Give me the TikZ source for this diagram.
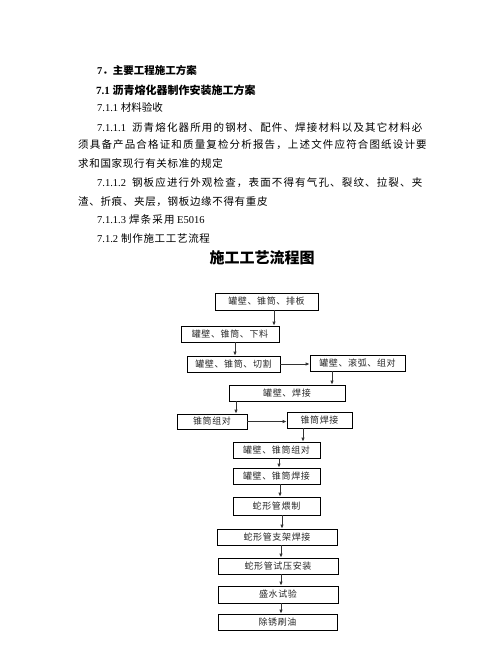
\documentclass[tikz,border=0pt]{standalone}
\usepackage{fontspec}
\setmainfont{Liberation Serif}
\newfontfamily\cjk{Noto Sans CJK SC}
\newfontfamily\cjkwide{Noto Sans CJK SC}[LetterSpace=11]
\newfontfamily\cjkmid{Noto Sans CJK SC}[LetterSpace=6.5]
\newfontfamily\cjkbox{Noto Sans CJK SC}[LetterSpace=7]
\usetikzlibrary{arrows.meta}

\begin{document}
\begin{tikzpicture}[x=1pt, y=-1pt,
  txt/.style={anchor=west, inner sep=0pt, font=\fontsize{10.5}{12}\selectfont},
  box/.style={draw, rectangle, line width=0.7pt, inner sep=0pt, text=black!85, font=\cjkbox\fontsize{9}{10}\selectfont},
  arr/.style={-{Latex[length=4pt,width=3.5pt]}, line width=0.8pt, black!80}]
\useasboundingbox (0,0) rectangle (502,649);

% text above the chart
\node[txt, font=\bfseries\fontsize{10.5}{12}\selectfont] (sec7) at (97,70) {7{\cjk．主要工程施工方案}};
\node[txt, font=\bfseries\fontsize{11}{12}\selectfont] (sec71) at (96,90) {7.1 {\cjk 沥青熔化器制作安装施工方案}};
\node[txt] (sec711) at (97,107) {7.1.1 {\cjk 材料验收}};
\node[txt] (para1a) at (97,127) {7.1.1.1\hspace{6pt}{\cjkwide 沥青熔化器所用的钢材、配件、焊接材料以及其它材料必}};
\node[txt] (para1b) at (78,145) {{\cjkwide 须具备产品合格证和质量复检分析报告，上述文件应符合图纸设计要}};
\node[txt] (para1c) at (78,163) {{\cjkmid 求和国家现行有关标准的规定}};
\node[txt] (para2a) at (97,183) {7.1.1.2\hspace{6pt}{\cjkwide 钢板应进行外观检查，表面不得有气孔、裂纹、拉裂、夹}};
\node[txt] (para2b) at (78,202) {{\cjkmid 渣、折痕、夹层，钢板边缘不得有重皮}};
\node[txt] (para3) at (97,220) {7.1.1.3\hspace{3pt}{\cjkwide 焊条采用} E5016};
\node[txt] (sec712) at (97,238) {7.1.2\hspace{3pt}{\cjkmid 制作施工工艺流程}};
\node[inner sep=0pt, font=\cjk\bfseries\fontsize{15}{16}\selectfont] (title) at (262,258) {施工工艺流程图};

% flow chart
\node[box, minimum width=103pt, minimum height=17pt] (pb) at (266.5,301.5) {罐壁、锥筒、排板};
\node[box, minimum width=98pt, minimum height=16pt] (xl) at (230,334) {罐壁、锥筒、下料};
\node[box, minimum width=93pt, minimum height=16pt] (qg) at (233.5,364) {罐壁、锥筒、切割};
\node[box, minimum width=95pt, minimum height=16pt] (gh) at (357.5,363) {罐壁、滚弧、组对};
\node[box, minimum width=116pt, minimum height=16pt] (hj) at (287,393) {罐壁、焊接};
\node[box, minimum width=70pt, minimum height=15pt] (zd) at (212,421.5) {锥筒组对};
\node[box, minimum width=65pt, minimum height=16pt] (zh) at (319.5,420) {锥筒焊接};
\node[box, minimum width=87pt, minimum height=16pt] (gzd) at (276.5,450) {罐壁、锥筒组对};
\node[box, minimum width=87pt, minimum height=16pt] (gzh) at (276.5,476) {罐壁、锥筒焊接};
\node[box, minimum width=87pt, minimum height=18pt] (sw) at (276.5,506) {蛇形管煨制};
\node[box, minimum width=120pt, minimum height=16pt] (zj) at (277,537) {蛇形管支架焊接};
\node[box, minimum width=120pt, minimum height=16pt] (sy) at (278,566) {蛇形管试压安装};
\node[box, minimum width=120pt, minimum height=17pt] (cs) at (278,594.5) {盛水试验};
\node[box, minimum width=119pt, minimum height=16pt] (cx) at (277.5,622) {除锈刷油};

\draw[arr] ([xshift=7.5pt]pb.south) -- ([xshift=7.5pt]pb.south |- xl.north);
\draw[arr] ([xshift=5pt]xl.south) -- ([xshift=5pt]xl.south |- qg.north);
\draw[arr] (qg.east) -- (qg.east -| gh.west);
\draw[arr] ([xshift=-25.5pt]gh.south) -- ([xshift=-25.5pt]gh.south |- hj.north);
\draw[arr] ([xshift=-51pt]hj.south) -- ([xshift=-51pt]hj.south |- zd.north);
\draw[arr] (zd.east) -- (zd.east -| zh.west);
\draw[arr] ([xshift=-16.5pt]zh.south) -- ([xshift=-16.5pt]zh.south |- gzd.north);
\draw[arr] ([xshift=2.5pt]gzd.south) -- ([xshift=2.5pt]gzd.south |- gzh.north);
\draw[arr] ([xshift=3.5pt]gzh.south) -- ([xshift=3.5pt]gzh.south |- sw.north);
\draw[arr] ([xshift=5.5pt]sw.south) -- ([xshift=5.5pt]sw.south |- zj.north);
\draw[arr] ([xshift=4pt]zj.south) -- ([xshift=4pt]zj.south |- sy.north);
\draw[arr] ([xshift=3pt]sy.south) -- ([xshift=3pt]sy.south |- cs.north);
\draw[arr] ([xshift=3pt]cs.south) -- ([xshift=3pt]cs.south |- cx.north);
\end{tikzpicture}
\end{document}
